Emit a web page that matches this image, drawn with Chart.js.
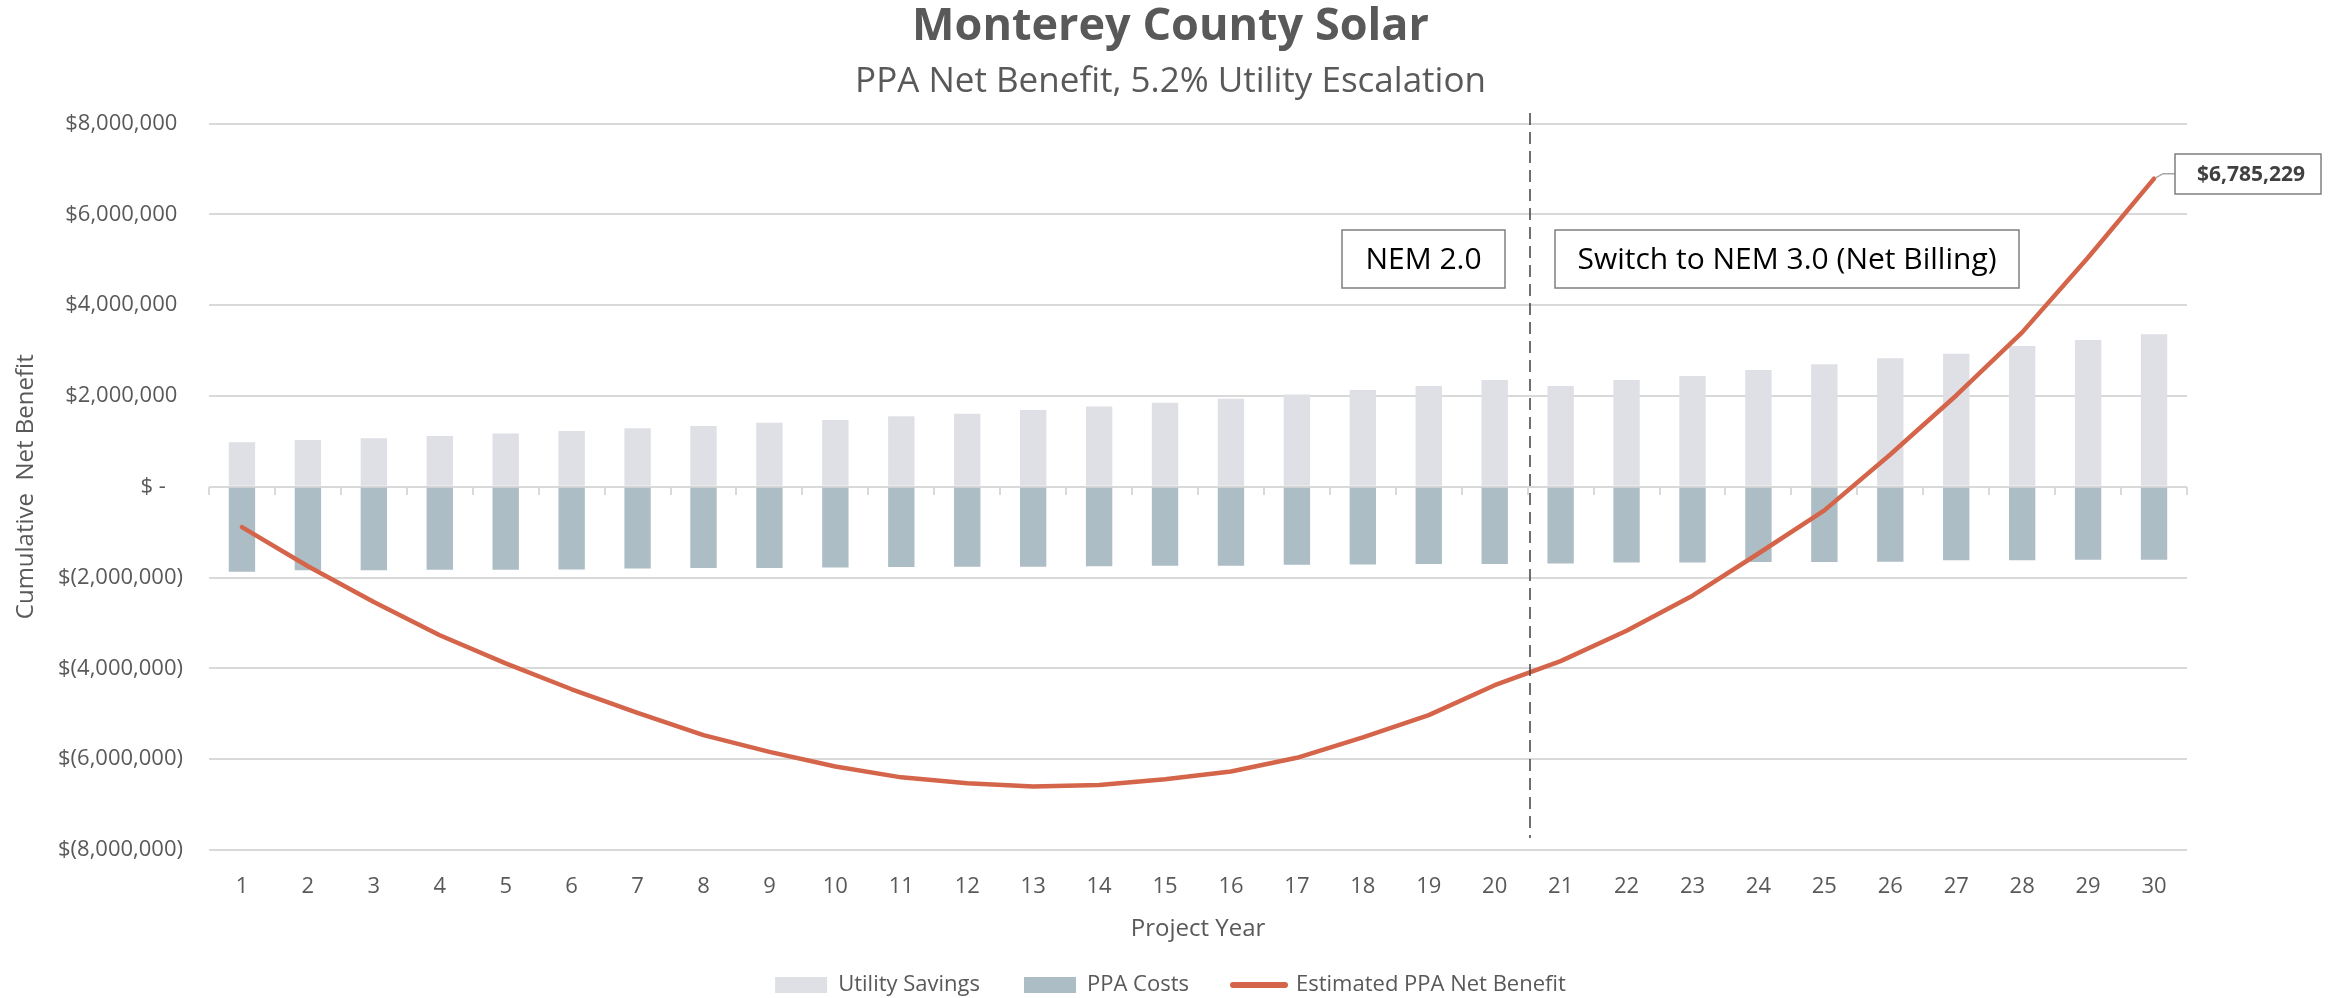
<!DOCTYPE html>
<html>
<head>
<meta charset="utf-8">
<script src="https://cdn.jsdelivr.net/npm/chart.js@4/dist/chart.umd.min.js"></script>
<style>
  html, body { margin: 0; padding: 0; background: #ffffff; }
  canvas { display: block; }
</style>
</head>
<body>
<canvas id="chart" width="2341" height="998"></canvas>
<script>
// ---------------- data ----------------
const years = ['1','2','3','4','5','6','7','8','9','10','11','12','13','14','15',
               '16','17','18','19','20','21','22','23','24','25','26','27','28','29','30'];

const utilitySavings = [980000, 1030000, 1070000, 1120000, 1170000, 1230000, 1290000, 1340000, 1410000, 1470000,
                        1550000, 1610000, 1690000, 1770000, 1850000, 1940000, 2030000, 2130000, 2220000, 2350000,
                        2220000, 2350000, 2440000, 2570000, 2700000, 2830000, 2930000, 3100000, 3230000, 3360000];

const ppaCosts = [-1870000, -1840000, -1840000, -1830000, -1830000, -1820000, -1800000, -1790000, -1790000, -1780000,
                  -1770000, -1760000, -1760000, -1750000, -1740000, -1740000, -1720000, -1710000, -1700000, -1700000,
                  -1690000, -1670000, -1670000, -1660000, -1660000, -1650000, -1620000, -1620000, -1610000, -1610000];

const netBenefit = [-890000, -1750000, -2540000, -3270000, -3890000, -4460000, -4980000, -5470000, -5840000, -6160000,
                    -6400000, -6530000, -6600000, -6570000, -6440000, -6270000, -5970000, -5520000, -5030000, -4370000,
                    -3840000, -3170000, -2400000, -1470000, -520000, 710000, 2010000, 3400000, 5050000, 6785229];

const yTickValues = [-8000000, -6000000, -4000000, -2000000, 0, 2000000, 4000000, 6000000, 8000000];
const yTickLabels = ['$(8,000,000)', '$(6,000,000)', '$(4,000,000)', '$(2,000,000)', '$ -',
                     '$2,000,000', '$4,000,000', '$6,000,000', '$8,000,000'];

const seriesNames = ['Utility Savings', 'PPA Costs', 'Estimated PPA Net Benefit'];
const titleText = 'Monterey County Solar';
const subtitleText = 'PPA Net Benefit, 5.2% Utility Escalation';
const xAxisTitle = 'Project Year';
const yAxisTitle = 'Cumulative  Net Benefit';
const phaseLabels = ['NEM 2.0', 'Switch to NEM 3.0 (Net Billing)'];
const finalValueLabel = '$6,785,229';
const switchAfterYearIndex = 19;   // divider between year 20 and year 21

// ---------------- styling ----------------
const FONT = "'Open Sans', 'Noto Sans', sans-serif";
const TEXT = '#595959';
const GRID = '#d9d9d9';
const C_UTIL = '#dfe0e5';
const C_PPA = '#adbdc5';
const C_LINE = '#d4654a';

Chart.defaults.font.family = FONT;
Chart.defaults.color = TEXT;

const overlayPlugin = {
  id: 'overlay',
  beforeDatasetsDraw(chart) {
    const { ctx, scales: { x, y } } = chart;
    const y0 = Math.round(y.getPixelForValue(0));
    ctx.save();
    ctx.strokeStyle = GRID;
    ctx.lineWidth = 2;
    for (let i = 0; i <= years.length; i++) {
      const px = Math.round(x.getPixelForValue(i - 0.5));
      ctx.beginPath();
      ctx.moveTo(px, y0);
      ctx.lineTo(px, y0 + 8);
      ctx.stroke();
    }
    ctx.restore();
  },
  afterDatasetsDraw(chart) {
    const { ctx, scales: { x, y } } = chart;
    const dx = Math.round((x.getPixelForValue(switchAfterYearIndex) + x.getPixelForValue(switchAfterYearIndex + 1)) / 2) + 2;
    ctx.save();
    // dashed divider
    ctx.strokeStyle = '#404040';
    ctx.lineWidth = 1.5;
    ctx.setLineDash([12, 7]);
    ctx.beginPath();
    ctx.moveTo(dx, y.getPixelForValue(8230000));
    ctx.lineTo(dx, y.getPixelForValue(-7735000));
    ctx.stroke();
    ctx.setLineDash([]);

    // phase boxes
    const top = Math.round(y.getPixelForValue(5648000));
    const bot = Math.round(y.getPixelForValue(4367000));
    ctx.font = '30px ' + FONT;
    ctx.textBaseline = 'middle';
    ctx.textAlign = 'center';
    const drawBox = (l, r, text) => {
      ctx.fillStyle = '#ffffff';
      ctx.fillRect(l, top, r - l, bot - top);
      ctx.strokeStyle = '#7f7f7f';
      ctx.lineWidth = 1.5;
      ctx.strokeRect(l, top, r - l, bot - top);
      ctx.fillStyle = '#000000';
      ctx.fillText(text, (l + r) / 2, (top + bot) / 2 + 1);
    };
    const w0 = ctx.measureText(phaseLabels[0]).width;
    const w1 = ctx.measureText(phaseLabels[1]).width;
    drawBox(Math.round(dx - 25 - w0 - 47), dx - 25, phaseLabels[0]);
    drawBox(dx + 25, Math.round(dx + 25 + w1 + 45), phaseLabels[1]);

    // final value callout
    const meta = chart.getDatasetMeta(2);
    const pt = meta.data[meta.data.length - 1];
    const px = pt.x, py = pt.y;
    ctx.strokeStyle = '#a6a6a6';
    ctx.lineWidth = 1.5;
    ctx.beginPath();
    ctx.moveTo(px + 2, py - 1);
    ctx.lineTo(px + 9, py - 5);
    ctx.lineTo(px + 21, py - 5);
    ctx.stroke();
    const bl = Math.round(px + 21), bt = Math.round(py - 25), bw = 146, bh = 40;
    ctx.fillStyle = '#ffffff';
    ctx.fillRect(bl, bt, bw, bh);
    ctx.strokeStyle = '#7f7f7f';
    ctx.lineWidth = 1.5;
    ctx.strokeRect(bl, bt, bw, bh);
    ctx.font = 'bold 21px ' + FONT;
    ctx.fillStyle = '#404040';
    ctx.fillText(finalValueLabel, bl + bw / 2 + 3, bt + bh / 2 + 1);
    ctx.restore();
  }
};

new Chart(document.getElementById('chart'), {
  type: 'bar',
  data: {
    labels: years,
    datasets: [
      {
        label: seriesNames[0],
        data: utilitySavings,
        backgroundColor: C_UTIL,
        borderWidth: 0,
        grouped: false,
        barPercentage: 0.4,
        categoryPercentage: 1.0,
        order: 2
      },
      {
        label: seriesNames[1],
        data: ppaCosts,
        backgroundColor: C_PPA,
        borderWidth: 0,
        grouped: false,
        barPercentage: 0.4,
        categoryPercentage: 1.0,
        order: 1
      },
      {
        type: 'line',
        label: seriesNames[2],
        data: netBenefit,
        borderColor: C_LINE,
        backgroundColor: C_LINE,
        borderWidth: 4.5,
        borderCapStyle: 'round',
        borderJoinStyle: 'round',
        pointRadius: 0,
        tension: 0,
        fill: false,
        order: 0
      }
    ]
  },
  options: {
    responsive: false,
    animation: false,
    devicePixelRatio: 1,
    layout: { padding: { top: 0, left: 0, right: 0, bottom: -8 } },
    plugins: {
      tooltip: { enabled: false },
      title: {
        display: true,
        text: titleText,
        color: TEXT,
        font: { family: FONT, size: 45, weight: 'bold', lineHeight: 1.2 },
        padding: { top: 0, bottom: 0 }
      },
      subtitle: {
        display: true,
        text: subtitleText,
        color: TEXT,
        font: { family: FONT, size: 35, weight: 'normal', lineHeight: 1.2 },
        padding: { top: 7.5, bottom: 20 }
      },
      legend: {
        display: true,
        position: 'bottom',
        labels: {
          color: TEXT,
          font: { family: FONT, size: 22 },
          usePointStyle: true,
          pointStyleWidth: 52,
          boxHeight: 16,
          padding: 44,
          generateLabels(chart) {
            return chart.data.datasets.map((ds, i) => {
              const isLine = ds.type === 'line';
              const col = isLine ? ds.borderColor : ds.backgroundColor;
              return {
                text: ds.label,
                fillStyle: col,
                strokeStyle: col,
                lineWidth: isLine ? 6 : 0,
                lineCap: 'round',
                pointStyle: isLine ? 'line' : 'rect',
                hidden: false,
                datasetIndex: i,
                fontColor: TEXT
              };
            });
          }
        }
      }
    },
    scales: {
      x: {
        grid: { display: false, drawTicks: false },
        border: { display: false },
        ticks: {
          color: TEXT,
          font: { family: FONT, size: 22 },
          padding: 23.5,
          maxRotation: 0,
          autoSkip: false
        },
        title: {
          display: true,
          text: xAxisTitle,
          color: TEXT,
          font: { family: FONT, size: 24 },
          padding: { top: 15.4, bottom: -13.4 }
        },
        afterFit(s) { s.height = 80; }
      },
      y: {
        min: -8000000,
        max: 8000000,
        grid: { color: GRID, lineWidth: 2, drawTicks: false },
        border: { display: false },
        ticks: {
          stepSize: 2000000,
          color: TEXT,
          font: { family: FONT, size: 22 },
          padding: 26,
          callback(v) {
            const i = yTickValues.indexOf(v);
            if (i < 0) return '';
            const s = yTickLabels[i];
            if (v === 0) return s + '   ';
            return v > 0 ? s + ' ' : s;
          }
        },
        title: {
          display: true,
          text: yAxisTitle,
          color: TEXT,
          font: { family: FONT, size: 24 },
          padding: { top: 11.6, bottom: 0 }
        },
        afterFit(s) { s.width = 209; }
      },
      yRight: {
        type: 'linear',
        position: 'right',
        display: true,
        grid: { display: false, drawTicks: false },
        border: { display: false },
        ticks: { display: false },
        afterFit(s) { s.width = 154; }
      }
    }
  },
  plugins: [overlayPlugin]
});
</script>
</body>
</html>
